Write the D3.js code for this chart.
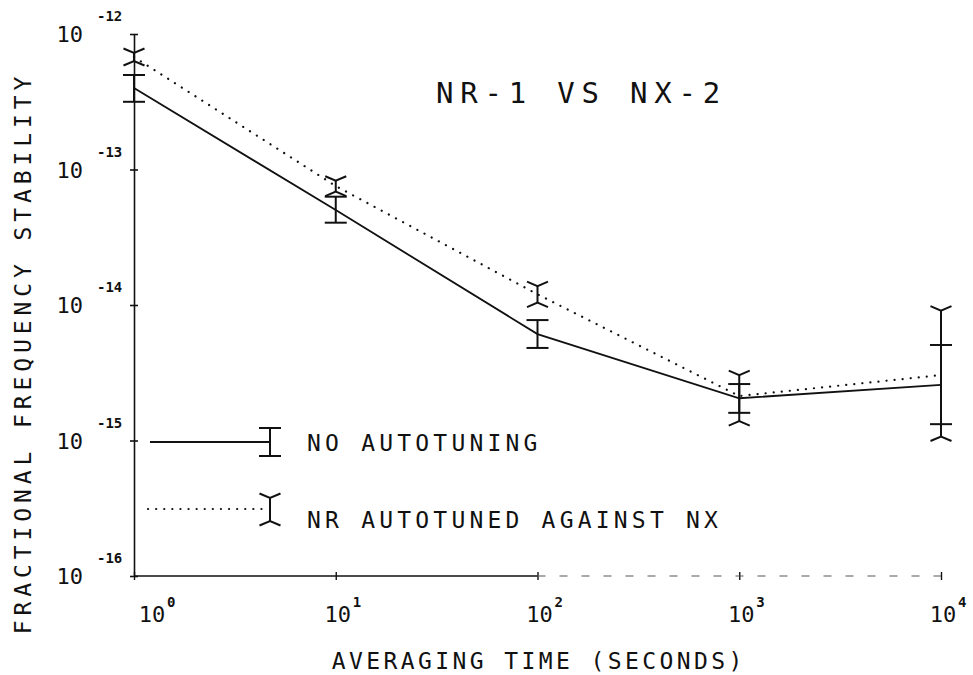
<!DOCTYPE html>
<html>
<head>
<meta charset="utf-8">
<script src="https://cdn.jsdelivr.net/npm/d3@7/dist/d3.min.js"></script>
<style>
  html, body { margin: 0; padding: 0; background: #fff; }
  svg { display: block; }
  text { font-family: "DejaVu Sans Mono", "Liberation Mono", monospace; fill: #111; }
</style>
</head>
<body>
<svg id="chart" width="973" height="675"></svg>
<script>
// ---- data ----
const tau = [1, 10, 100, 1000, 10000];

const noAuto    = [3.99e-13, 5.02e-14, 6.10e-15, 2.05e-15, 2.57e-15];
const noAutoHi  = [4.98e-13, 6.30e-14, 7.74e-15, 2.61e-15, 5.07e-15];
const noAutoLo  = [3.16e-13, 4.05e-14, 4.82e-15, 1.60e-15, 1.32e-15];

const tuned     = [6.77e-13, 7.55e-14, 1.20e-14, 2.13e-15, 3.04e-15];
const tunedHi   = [7.24e-13, 8.26e-14, 1.38e-14, 3.04e-15, 9.08e-15];
const tunedLo   = [6.32e-13, 6.86e-14, 1.04e-14, 1.39e-15, 1.07e-15];

const xTicks = [1, 10, 100, 1000, 10000];
const xTickExp = ["0", "1", "2", "3", "4"];
const yTicks = [1e-12, 1e-13, 1e-14, 1e-15, 1e-16];
const yTickExp = ["-12", "-13", "-14", "-15", "-16"];

const title = "NR-1 VS NX-2";
const xLabel = "AVERAGING TIME (SECONDS)";
const yLabel = "FRACTIONAL FREQUENCY STABILITY";
const legendLabels = ["NO AUTOTUNING", "NR AUTOTUNED AGAINST NX"];

// ---- layout ----
const svg = d3.select("#chart");
svg.append("rect").attr("width", 973).attr("height", 675).attr("fill", "#fff");

const x = d3.scaleLog().domain([1, 1e4]).range([134, 941]);
const y = d3.scaleLog().domain([1e-16, 1e-12]).range([576, 34]);

const ink = "#111";

// y axis
const yAxis = d3.axisLeft(y).tickValues(yTicks).tickFormat("").tickSize(4).tickSizeOuter(0);
const gy = svg.append("g").attr("transform", "translate(134,0)").call(yAxis);
gy.select(".domain").attr("stroke", ink).attr("stroke-width", 1.6);
gy.selectAll(".tick line").attr("x1", 4).attr("stroke", ink).attr("stroke-width", 1.6);

// x axis
const xAxis = d3.axisBottom(x).tickValues(xTicks).tickFormat("").tickSize(4).tickSizeOuter(0);
const gx = svg.append("g").attr("transform", "translate(0,576)").call(xAxis);
gx.select(".domain").remove();
gx.selectAll(".tick line").attr("y1", -4).attr("stroke", ink).attr("stroke-width", 1.4);
svg.append("line").attr("x1", x(1)).attr("x2", x(100)).attr("y1", 576).attr("y2", 576)
  .attr("stroke", ink).attr("stroke-width", 1.5);
svg.append("line").attr("x1", x(100)).attr("x2", x(1e4)).attr("y1", 576).attr("y2", 576)
  .attr("stroke", "#555").attr("stroke-width", 1.2).attr("stroke-dasharray", "8,14");

// y tick labels
yTicks.forEach((t, i) => {
  svg.append("text").attr("x", 83).attr("y", y(t) + 8)
    .attr("text-anchor", "end").attr("font-size", 22)
    .text("10");
  svg.append("text").attr("x", 97).attr("y", y(t) - 13)
    .attr("font-size", 14).attr("font-weight", "bold")
    .text(yTickExp[i]);
});

// x tick labels
xTicks.forEach((t, i) => {
  const cx = x(t) + (i === 0 ? 18 : 2);
  svg.append("text").attr("x", cx).attr("y", 622)
    .attr("text-anchor", "middle").attr("font-size", 22)
    .text("10");
  svg.append("text").attr("x", cx + 15).attr("y", 607)
    .attr("font-size", 14).attr("font-weight", "bold")
    .text(xTickExp[i]);
});

// title & axis labels
svg.append("text").attr("x", 436).attr("y", 103).attr("font-size", 29)
  .attr("letter-spacing", 6.8).text(title);
svg.append("text").attr("x", 537 + 1.7).attr("y", 669).attr("text-anchor", "middle")
  .attr("font-size", 23).attr("letter-spacing", 3.4).text(xLabel);
svg.append("text").attr("transform", "translate(31,353) rotate(-90)")
  .attr("text-anchor", "middle").attr("font-size", 23).attr("letter-spacing", 4.9)
  .text(yLabel);

// ---- series ----
const line = (vals) => d3.line().x((d, i) => x(tau[i])).y(d => y(d))(vals);

svg.append("path").attr("d", line(tuned)).attr("fill", "none")
  .attr("stroke", ink).attr("stroke-width", 2.2).attr("stroke-linecap", "round")
  .attr("stroke-dasharray", "0.1,8");
svg.append("path").attr("d", line(noAuto)).attr("fill", "none")
  .attr("stroke", ink).attr("stroke-width", 1.8);

// error bars
function tBar(g, cx, y1, y2) {
  g.append("line").attr("x1", cx).attr("x2", cx).attr("y1", y1).attr("y2", y2);
  g.append("line").attr("x1", cx - 11).attr("x2", cx + 11).attr("y1", y1).attr("y2", y1);
  g.append("line").attr("x1", cx - 11).attr("x2", cx + 11).attr("y1", y2).attr("y2", y2);
}
function forkBar(g, cx, yTop, yBot) {
  g.append("line").attr("x1", cx).attr("x2", cx).attr("y1", yTop).attr("y2", yBot);
  g.append("path").attr("d", `M${cx - 10.5},${yTop - 4.5}L${cx},${yTop}L${cx + 10.5},${yTop - 4.5}`).attr("fill", "none");
  g.append("path").attr("d", `M${cx - 10.5},${yBot + 4.5}L${cx},${yBot}L${cx + 10.5},${yBot + 4.5}`).attr("fill", "none");
}

const gBars = svg.append("g").attr("stroke", ink).attr("stroke-width", 2);
tau.forEach((t, i) => {
  tBar(gBars, x(t), y(noAutoHi[i]), y(noAutoLo[i]));
  forkBar(gBars, x(t), y(tunedHi[i]), y(tunedLo[i]));
});

// ---- legend ----
const gl = svg.append("g").attr("stroke", ink).attr("stroke-width", 2);
gl.append("line").attr("x1", 150).attr("x2", 270).attr("y1", 442).attr("y2", 442).attr("stroke-width", 1.8);
tBar(gl, 270, 428, 456);
gl.append("line").attr("x1", 148).attr("x2", 266).attr("y1", 509).attr("y2", 509)
  .attr("stroke-width", 2.2).attr("stroke-linecap", "round").attr("stroke-dasharray", "0.1,8");
forkBar(gl, 270, 498, 521);

svg.append("text").attr("x", 307).attr("y", 451).attr("font-size", 23)
  .attr("letter-spacing", 4.2).text(legendLabels[0]);
svg.append("text").attr("x", 307).attr("y", 528).attr("font-size", 23)
  .attr("letter-spacing", 4.2).text(legendLabels[1]);
</script>
</body>
</html>
